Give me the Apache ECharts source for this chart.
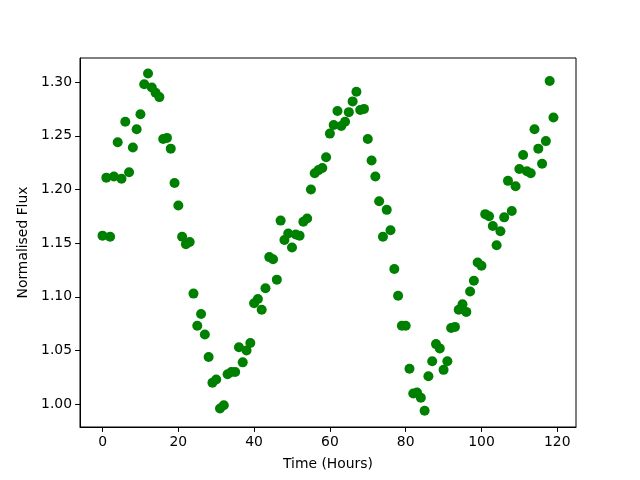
<!DOCTYPE html>
<html>
<head>
<meta charset="utf-8">
<script src="https://cdn.jsdelivr.net/npm/echarts@6/dist/echarts.min.js"></script>
<style>
html,body{margin:0;padding:0;background:#fff;}
#chart{width:640px;height:480px;}
</style>
</head>
<body>
<div id="chart"></div>
<script>
const hours = [];
for (let i = 0; i < 120; i++) hours.push(i);
const flux = [
1.157,1.211,1.156,1.212,1.244,1.210,1.263,1.216,1.239,1.256,
1.270,1.298,1.308,1.295,1.290,1.286,1.247,1.248,1.238,1.206,
1.185,1.156,1.149,1.151,1.103,1.073,1.084,1.065,1.044,1.020,
1.023,0.996,0.999,1.028,1.030,1.030,1.053,1.039,1.050,1.057,
1.094,1.098,1.088,1.108,1.137,1.135,1.116,1.171,1.153,1.159,
1.146,1.158,1.157,1.170,1.173,1.200,1.215,1.218,1.220,1.230,
1.252,1.260,1.273,1.259,1.263,1.272,1.282,1.291,1.274,1.275,
1.247,1.227,1.212,1.189,1.156,1.181,1.162,1.126,1.101,1.073,
1.073,1.033,1.010,1.011,1.006,0.994,1.026,1.040,1.056,1.052,
1.032,1.040,1.071,1.072,1.088,1.093,1.086,1.105,1.115,1.132,
1.129,1.177,1.175,1.166,1.148,1.161,1.174,1.208,1.180,1.203,
1.219,1.232,1.217,1.215,1.256,1.238,1.224,1.245,1.301,1.267
];
const xTicks = [0, 20, 40, 60, 80, 100, 120];
const yTicks = [1.00, 1.05, 1.10, 1.15, 1.20, 1.25, 1.30];

const font = 'DejaVu Sans';
const chart = echarts.init(document.getElementById('chart'), null, {renderer: 'canvas'});
chart.setOption({
  animation: false,
  backgroundColor: '#fff',
  grid: {left: 80, right: 64, top: 58, bottom: 53, show: true, borderColor: '#000', borderWidth: 1, backgroundColor: 'transparent'},
  xAxis: {
    type: 'value', min: -5.95, max: 124.95,
    name: 'Time (Hours)', nameLocation: 'middle', nameGap: 30,
    nameTextStyle: {fontFamily: font, fontSize: 13.9, color: '#000'},
    axisLine: {show: true, onZero: false, lineStyle: {color: '#000', width: 1}},
    axisTick: {show: true, inside: false, length: 4.9, lineStyle: {color: '#000', width: 1}, customValues: xTicks},
    axisLabel: {show: true, margin: 8, fontFamily: font, fontSize: 13.9, color: '#000', customValues: xTicks, formatter: v => String(v)},
    splitLine: {show: false}
  },
  yAxis: {
    type: 'value', min: 0.9788, max: 1.3224,
    name: 'Normalised Flux', nameLocation: 'middle', nameGap: 43, nameRotate: 90,
    nameTextStyle: {fontFamily: font, fontSize: 13.9, color: '#000'},
    axisLine: {show: true, onZero: false, lineStyle: {color: '#000', width: 1}},
    axisTick: {show: true, inside: false, length: 4.9, lineStyle: {color: '#000', width: 1}, customValues: yTicks},
    axisLabel: {show: true, margin: 8, fontFamily: font, fontSize: 13.9, color: '#000', customValues: yTicks, formatter: v => v.toFixed(2)},
    splitLine: {show: false}
  },
  series: [{
    type: 'scatter',
    data: hours.map((h, i) => [h, flux[i]]),
    symbol: 'circle',
    symbolSize: 10,
    itemStyle: {color: '#008000', opacity: 1},
    emphasis: {disabled: true}
  }]
});
</script>
</body>
</html>
